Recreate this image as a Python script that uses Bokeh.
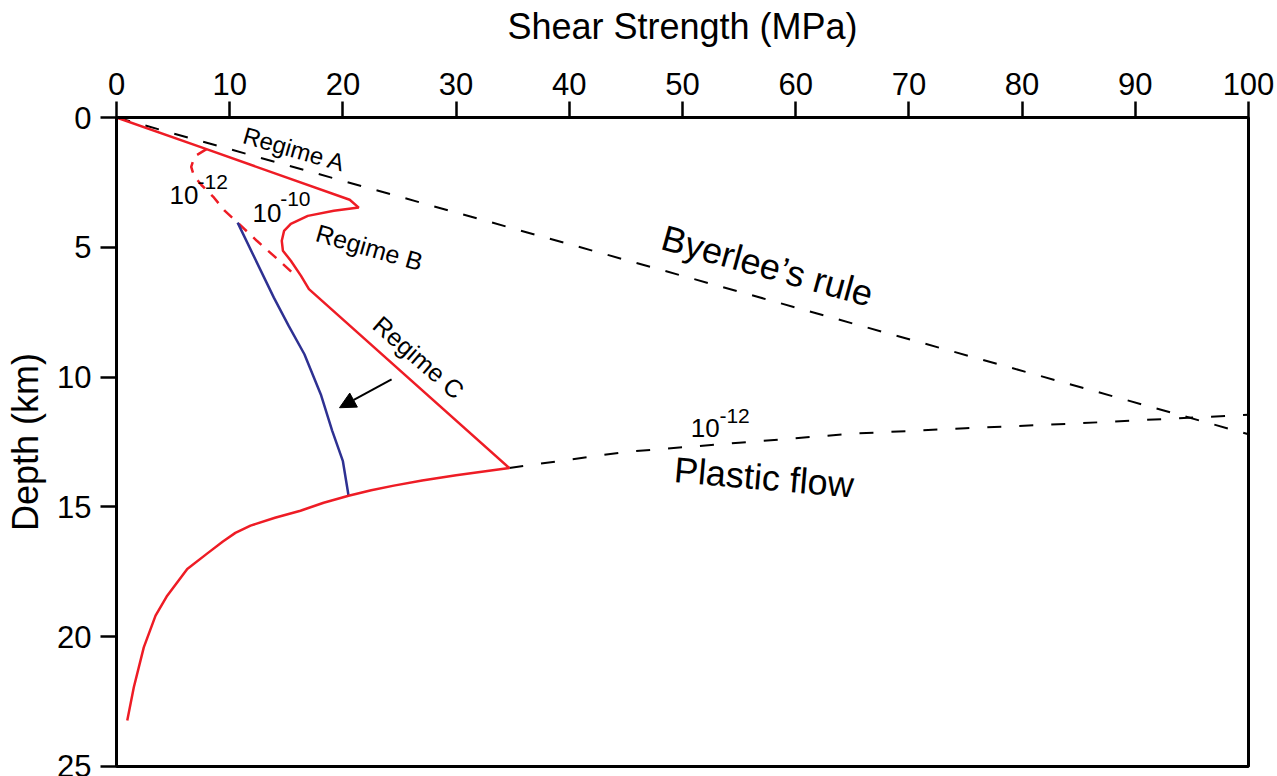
from bokeh.plotting import figure
from bokeh.models import Range1d, FixedTicker, Arrow, NormalHead
from bokeh.core.properties import value
from bokeh.embed import file_html
from bokeh.resources import INLINE

FONT = "Liberation Sans"

# Main red strength envelope (shear strength MPa, depth km)
red_x = [0, 7.95, 20.6, 21.4, 19.2, 16.9, 15.4, 14.8, 14.6, 14.7, 15.4, 16.3, 17.0,
         34.7, 30.0, 27.0, 24.5, 22.5, 20.5, 18.3, 16.25, 14.0, 11.84, 10.5, 9.4, 8.0,
         6.25, 4.48, 3.45, 2.41, 1.53, 0.95]
red_d = [0, 1.22, 3.17, 3.47, 3.59, 3.79, 4.1, 4.37, 4.75, 5.13, 5.52, 6.1, 6.61,
         13.5, 13.78, 13.98, 14.18, 14.36, 14.57, 14.84, 15.15, 15.42, 15.72, 16.0, 16.33, 16.8,
         17.39, 18.42, 19.19, 20.41, 21.95, 23.23]

# Red dashed branch (10^-12)
dash_x = [7.95, 6.9, 6.6, 6.83, 7.5, 8.6, 9.55, 10.7, 12.4, 13.9, 16.0]
dash_d = [1.22, 1.5, 1.9, 2.24, 2.6, 3.08, 3.59, 4.05, 4.75, 5.33, 6.16]

# Blue curve
blue_x = [10.7, 13.9, 15.2, 16.6, 18.05, 19.05, 20.0, 20.5]
blue_d = [4.05, 6.94, 8.02, 9.12, 10.67, 12.06, 13.24, 14.57]

# Byerlee's rule (black dashed)
byer_x = [0, 100]
byer_d = [0, 12.2]

# Plastic flow (black dashed)
plast_x = [34.7, 45, 55, 65, 75, 85, 100]
plast_d = [13.5, 12.88, 12.53, 12.18, 11.97, 11.78, 11.45]

x_ticks = [0, 10, 20, 30, 40, 50, 60, 70, 80, 90, 100]
y_ticks = [0, 5, 10, 15, 20, 25]

p = figure(width=1277, height=776, x_range=Range1d(0, 100), y_range=Range1d(25, 0),
           x_axis_location="above", output_backend="svg", toolbar_location=None,
           min_border_left=116, min_border_right=29, min_border_top=117, min_border_bottom=10)
p.background_fill_color = "white"
p.border_fill_color = "white"
p.xgrid.visible = False
p.ygrid.visible = False
p.outline_line_color = "black"
p.outline_line_width = 3

for ax, ticks in ((p.xaxis[0], x_ticks), (p.yaxis[0], y_ticks)):
    ax.ticker = FixedTicker(ticks=ticks)
    ax.axis_line_width = 3
    ax.axis_line_color = "black"
    ax.major_tick_line_width = 2.5
    ax.major_tick_line_color = "black"
    ax.major_tick_out = 16
    ax.major_tick_in = 0
    ax.minor_tick_line_color = None
    ax.major_label_text_font = FONT
    ax.major_label_text_font_size = "31px"
    ax.major_label_text_color = "black"
    ax.axis_label_text_font = FONT
    ax.axis_label_text_font_style = "normal"
    ax.axis_label_text_color = "black"
    ax.axis_label_text_font_size = "36px"

p.xaxis.axis_label = "Shear Strength (MPa)"
p.yaxis.axis_label = "Depth (km)"
p.xaxis.major_label_standoff = 7
p.yaxis.major_label_standoff = 9
p.xaxis.axis_label_standoff = 23
p.yaxis.axis_label_standoff = 8

# Lines
p.line(byer_x, byer_d, line_color="black", line_width=2, line_dash="14 16")
p.line(plast_x, plast_d, line_color="black", line_width=2, line_dash="14 18")
p.line(dash_x, dash_d, line_color="#ee1c25", line_width=2.5, line_dash="11 9")
p.line(blue_x, blue_d, line_color="#2e3192", line_width=2.5)
p.line(red_x, red_d, line_color="#ee1c25", line_width=2.5)

p.add_layout(Arrow(x_start=24.3, y_start=10.09, x_end=19.7, y_end=11.18,
                   line_color="black", line_width=2,
                   end=NormalHead(size=16, fill_color="black", line_color="black")))

def label(x, y, txt, size, angle=0):
    p.text([x], [y], text=[txt], angle=angle, angle_units="deg",
           text_font=value(FONT), text_font_size=size, text_color="black",
           text_align="center", text_baseline="middle")

label(15.72, 1.22, "Regime A", "24px", -16)
label(22.35, 5.0, "Regime B", "25px", -16)
label(26.7, 9.24, "Regime C", "25px", -41)
label(57.5, 5.71, "Byerlee\u2019s rule", "36px", -15.5)
label(57.2, 13.86, "Plastic flow", "36px", -5)

label(5.96, 2.98, "10", "26px")
label(8.5, 2.5, "-12", "21px")
label(13.3, 3.69, "10", "26px")
label(15.8, 3.15, "-10", "21px")
label(52.0, 11.97, "10", "26px")
label(54.6, 11.49, "-12", "21px")

open("out.html", "w").write(file_html(p, INLINE))
